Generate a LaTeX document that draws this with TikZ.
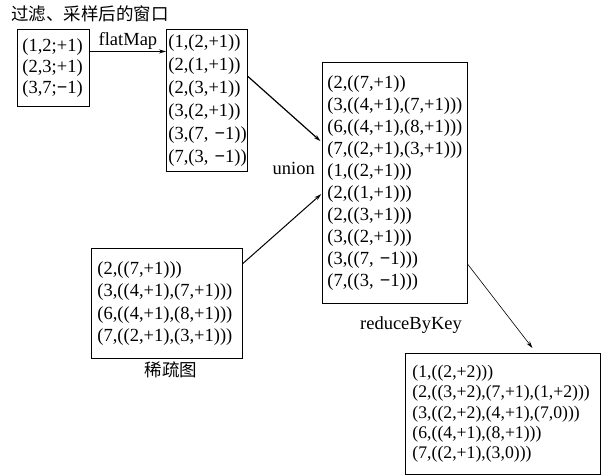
\documentclass[tikz,border=0pt]{standalone}
\usepackage{fontspec}
\setmainfont{Liberation Serif}
\newfontfamily\cjk{Noto Sans CJK SC}
\usetikzlibrary{arrows.meta,calc}
% heavy minus sign used in the weights
\newcommand{\mn}{\textbf{−}}

\begin{document}
\begin{tikzpicture}[x=1pt,y=-1pt,
  lst/.style={draw,line width=0.9pt,anchor=north west,align=left,
    inner ysep=0pt,font=\fontsize{18.5pt}{22pt}\selectfont},
  arr/.style={line width=1pt,-{Stealth[length=7pt,width=4pt]}},
  thinarr/.style={line width=0.6pt,-{Stealth[length=7pt,width=4pt]}},
  lbl/.style={font=\fontsize{18.5pt}{22pt}\selectfont,inner sep=0pt},
  cjklbl/.style={font=\cjk\fontsize{17.5pt}{20pt}\selectfont,inner sep=0pt}]
\useasboundingbox (0,0) rectangle (603,476);

% input window
\node[cjklbl,anchor=west] (title) at (11,14) {过滤、采样后的窗口};
\node[lst,inner xsep=5pt,text width=62pt,minimum height=77pt,
  font=\fontsize{18.5pt}{21pt}\selectfont] (win) at (17,29)
  {(1,2;+1)\\(2,3;+1)\\(3,7;\mn1)};

% flatMap output
\node[lst,inner xsep=2pt,text width=77pt,minimum height=142pt,
  font=\fontsize{18.5pt}{23pt}\selectfont] (flat) at (166,29)
  {(1,(2,+1))\\(2,(1,+1))\\(2,(3,+1))\\(3,(2,+1))\\(3,(7,~\mn1))\\(7,(3,~\mn1))};

% union result
\node[lst,inner xsep=5pt,text width=135pt,minimum height=241pt] (uni) at (322,62)
  {(2,((7,+1))\\(3,((4,+1),(7,+1)))\\(6,((4,+1),(8,+1)))\\(7,((2,+1),(3,+1)))\\
   (1,((2,+1)))\\(2,((1,+1)))\\(2,((3,+1)))\\(3,((2,+1)))\\(3,((7,~\mn1)))\\(7,((3,~\mn1)))};

% sparse graph
\node[lst,inner xsep=6pt,text width=139pt,minimum height=110pt,
  font=\fontsize{18.5pt}{22.3pt}\selectfont] (sparse) at (91,248)
  {(2,((7,+1)))\\(3,((4,+1),(7,+1)))\\(6,((4,+1),(8,+1)))\\(7,((2,+1),(3,+1)))};
\node[cjklbl] (sparselbl) at (171,370) {稀疏图};

% reduceByKey result
\node[lst,inner xsep=7pt,text width=181pt,minimum height=121pt,
  font=\fontsize{17.7pt}{20.3pt}\selectfont] (res) at (405,353)
  {(1,((2,+2)))\\(2,((3,+2),(7,+1),(1,+2)))\\(3,((2,+2),(4,+1),(7,0)))\\
   (6,((4,+1),(8,+1)))\\(7,((2,+1),(3,0)))};

% connectors
\draw[arr] ([yshift=16.5pt]win.east) -- node[lbl,above=2pt] (fm) {flatMap}
  ([yshift=16.5pt]win.east -| flat.west);
\draw[arr,line width=1.2pt,shorten >=2pt] ([yshift=24pt]flat.east) -- ([yshift=40.5pt]uni.west);
\draw[arr,shorten >=1pt] ([yshift=40pt]sparse.east) -- ([yshift=-10.5pt]uni.west);
\node[lbl,anchor=east] (unlbl) at (315,168) {union};
\draw[thinarr] ([yshift=-81.5pt]uni.east) -- ([xshift=29.5pt,yshift=5pt]res.north);
\node[lbl] (rbk) at (411,325) {reduceByKey};
\end{tikzpicture}
\end{document}
